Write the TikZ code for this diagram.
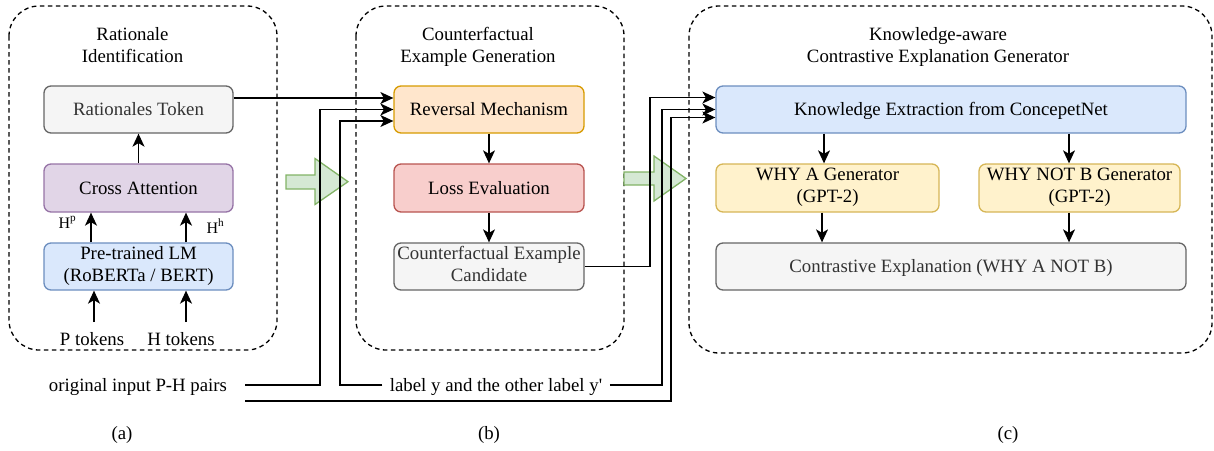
\documentclass[tikz,border=0pt]{standalone}
\usepackage{fontspec}
\setmainfont{Liberation Serif}
\usetikzlibrary{arrows.meta,calc}
\definecolor{grayfill}{HTML}{F5F5F5}
\definecolor{graydraw}{HTML}{666666}
\definecolor{graytext}{HTML}{333333}
\definecolor{purfill}{HTML}{E1D5E7}
\definecolor{purdraw}{HTML}{9673A6}
\definecolor{bluefill}{HTML}{DAE8FC}
\definecolor{bluedraw}{HTML}{6C8EBF}
\definecolor{orafill}{HTML}{FFE6CC}
\definecolor{oradraw}{HTML}{D79B00}
\definecolor{redfill}{HTML}{F8CECC}
\definecolor{reddraw}{HTML}{B85450}
\definecolor{yelfill}{HTML}{FFF2CC}
\definecolor{yeldraw}{HTML}{D6B656}
\definecolor{grnfill}{HTML}{D5E8D4}
\definecolor{grndraw}{HTML}{82B366}
\newcommand\mystrut{\rule[-4.6pt]{0pt}{22pt}}
\begin{document}
\begin{tikzpicture}[x=1pt,y=-1pt,line width=1.3pt,
  txt/.style={font=\fontsize{18.8pt}{22pt}\selectfont,inner sep=0pt,align=center,execute at begin node=\mystrut},
  small/.style={font=\fontsize{16pt}{19pt}\selectfont,inner sep=0pt},
  box/.style={txt,draw,rounded corners=7pt},
  graybox/.style={box,fill=grayfill,draw=graydraw,text=graytext},
  purbox/.style={box,fill=purfill,draw=purdraw},
  bluebox/.style={box,fill=bluefill,draw=bluedraw},
  orabox/.style={box,fill=orafill,draw=oradraw},
  redbox/.style={box,fill=redfill,draw=reddraw},
  yelbox/.style={box,fill=yelfill,draw=yeldraw},
  container/.style={draw,dash pattern=on 4.5pt off 3.5pt,rounded corners=30pt},
  bigarrow/.style={draw=grndraw,fill=grnfill,line width=1.3pt,line join=miter},
  arr/.style={-{Stealth[length=13pt,width=12pt,inset=3.5pt]}},
  conn/.style={arr,rounded corners=0pt}
]
\useasboundingbox (0,0) rectangle (1214,450);

% containers
\draw[container] (9,6) rectangle (277,350);
\draw[container] (356,6) rectangle (624,350);
\draw[container] (689,6) rectangle (1212,353);

% titles
\node[txt] (ta) at (132.5,47) {Rationale\\\mystrut Identification};
\node[txt] (tb) at (478,47) {Counterfactual\\\mystrut Example Generation};
\node[txt] (tc) at (938,47) {Knowledge-aware\\\mystrut Contrastive Explanation Generator};

% (a) boxes
\node[graybox,minimum width=189pt,minimum height=47pt] (rt) at (138.5,109.5) {Rationales Token};
\node[purbox,minimum width=189pt,minimum height=48pt] (ca) at (138.5,188) {Cross Attention};
\node[bluebox,minimum width=189pt,minimum height=47pt] (lm) at (138.5,266.5) {Pre-trained LM\\\mystrut (RoBERTa / BERT)};
\node[txt] (ptok) at (92,338.6) {P tokens};
\node[txt] (htok) at (181,338.6) {H tokens};
\coordinate (pstart) at (94,322);
\coordinate (hstart) at (186,322);
\node[small,anchor=base west] (hp) at (58,228) {H\textsuperscript{p}};
\node[small,anchor=base west] (hh) at (206,233) {H\textsuperscript{h}};

% (b) boxes
\node[orabox,minimum width=190pt,minimum height=47pt] (rev) at (489,109.5) {Reversal Mechanism};
\node[redbox,minimum width=190pt,minimum height=48pt] (loss) at (489,188) {Loss Evaluation};
\node[graybox,minimum width=190pt,minimum height=47pt] (cand) at (489,266.5) {Counterfactual Example\\\mystrut Candidate};

% (c) boxes
\node[bluebox,minimum width=470pt,minimum height=47pt] (ke) at (951,109.5) {Knowledge Extraction from ConcepetNet};
\node[yelbox,minimum width=223pt,minimum height=48pt] (wa) at (827.5,188) {WHY A Generator\\\mystrut (GPT-2)};
\node[yelbox,minimum width=201pt,minimum height=48pt] (wnb) at (1079.5,188) {WHY NOT B Generator\\\mystrut (GPT-2)};
\node[graybox,minimum width=470pt,minimum height=47pt] (ce) at (951,266.5) {Contrastive Explanation (WHY A NOT B)};

% bottom texts
\node[txt] (orig) at (138,385) {original input P-H pairs};
\coordinate (o1) at (245,385);
\coordinate (o2) at (245,401);
\node[txt,inner xsep=7pt] (lbl) at (496,385) {label y and the other label y\textquotesingle};

\node[txt] (la) at (122,433) {(a)};
\node[txt] (lb) at (489,433) {(b)};
\node[txt] (lc) at (1008,433) {(c)};

% green block arrows
\draw[bigarrow] (286,175) -- (315,175) -- (315,158.5) -- (348,181.7) -- (315,204.5) -- (315,189) -- (286,189) -- cycle;
\draw[bigarrow] (624,172) -- (654,172) -- (654,156) -- (686,178.5) -- (654,201) -- (654,185) -- (624,185) -- cycle;

% arrows inside (a)
\draw[arr] (ca.north) -- (rt.south);
\draw[arr] ([xshift=-47.5pt]lm.north) -- ([xshift=-47.5pt]ca.south);
\draw[arr] ([xshift=47.5pt]lm.north) -- ([xshift=47.5pt]ca.south);
\draw[arr] (pstart) -- ([xshift=-44.5pt]lm.south);
\draw[arr] (hstart) -- ([xshift=47.5pt]lm.south);

% arrows inside (b)
\draw[arr] (rev.south) -- (loss.north);
\draw[arr] (loss.south) -- (cand.north);

% arrows inside (c)
\draw[arr] ([xshift=-127pt]ke.south) -- ([xshift=-3.5pt]wa.north);
\draw[arr] ([xshift=118pt]ke.south) -- ([xshift=-10.5pt]wnb.north);
\draw[arr] ([xshift=-5.5pt]wa.south) -- ([xshift=-129pt]ce.north);
\draw[arr] ([xshift=-10.5pt]wnb.south) -- ([xshift=118pt]ce.north);

% long connectors
\draw[conn] ([yshift=11.5pt]rt.east) -- ([yshift=11.5pt]rev.west);
\draw[conn] (o1) -- (320,385) -- (320,109.5) -- (rev.west);
\draw[conn] (lbl.west) -- (340,385) -- (340,121) -- ([yshift=-11.5pt]rev.west);
\draw[conn] (cand.east) -- (650,266.5) -- (650,97.5) -- ([yshift=12pt]ke.west);
\draw[conn] (lbl.east) -- (662,385) -- (662,109.5) -- (ke.west);
\draw[conn] (o2) -- (671,401) -- (671,117.5) -- ([yshift=-8pt]ke.west);
\end{tikzpicture}
\end{document}
